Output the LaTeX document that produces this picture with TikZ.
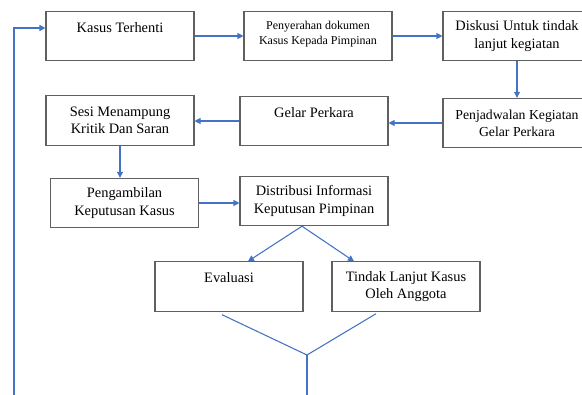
\documentclass[tikz,border=0pt]{standalone}
\usepackage{fontspec}
\setmainfont{Liberation Serif}
\usetikzlibrary{arrows.meta,calc}
\definecolor{boxgray}{RGB}{96,96,96}
\definecolor{flowblue}{RGB}{68,114,196}
\begin{document}
\begin{tikzpicture}[x=0.75pt,y=-0.75pt,
	box/.style={draw=boxgray,line width=0.8pt,minimum width=111pt,minimum height=37pt,align=center,inner sep=2pt,font=\fontsize{10.8}{13}\selectfont},
	smallbox/.style={box,font=\fontsize{9}{11.25}\selectfont},
	flow/.style={draw=flowblue,line width=0.8pt,-{Triangle[length=4.5pt,width=4.5pt]}},
	loopline/.style={draw=flowblue,line width=0.8pt}]
	\useasboundingbox (0,0) rectangle (582,394);
	\clip (0,0) rectangle (582,394);
	%upper row
	\node[box] (kasus) at (120,36) {Kasus Terhenti\\\mbox{}};
	\node[smallbox] (serah) at (318,36) {Penyerahan dokumen\\Kasus Kepada Pimpinan\\[-6pt]\mbox{}};
	\node[box] (diskusi) at (517,36) {Diskusi Untuk tindak\\lanjut kegiatan};
	\node[box,font=\fontsize{10.3}{13}\selectfont] (jadwal) at (517,123) {Penjadwalan Kegiatan\\Gelar Perkara};
	\node[box] (gelar) at (314,121) {Gelar Perkara\\\mbox{}};
	\node[box] (sesi) at (120,120.5) {Sesi Menampung\\Kritik Dan Saran};
	\node[box] (ambil) at (124.5,203) {Pengambilan\\Keputusan Kasus};
	\node[box] (distribusi) at (314,201) {Distribusi Informasi\\Keputusan Pimpinan};
	\node[box] (evaluasi) at (229,286.5) {Evaluasi\\\mbox{}};
	\node[box] (tindak) at (406,286.5) {Tindak Lanjut Kasus\\Oleh Anggota};
	%arrows
	\draw[flow] (kasus.east) -- (serah.west);
	\draw[flow] (serah.east) -- (diskusi.west);
	\draw[flow] (diskusi.south) -- (jadwal.north);
	\draw[flow] (jadwal.west) -- (jadwal.west -| gelar.east);
	\draw[flow] (gelar.west) -- (gelar.west -| sesi.east);
	\draw[flow] (sesi.south) -- (sesi.south |- ambil.north);
	\draw[flow] (ambil.east) -- (ambil.east -| distribusi.west);
	\coordinate (split) at ($(distribusi.south)+(-12,0)$);
	\draw[flow] (split) -- ($(evaluasi.north)+(19,0)$);
	\draw[flow] (split) -- ($(tindak.north)+(-52,0)$);
	%back to the start
	\coordinate (join) at (307,355);
	\coordinate (bottom) at (307,400);
	\coordinate (corner) at (14,400);
	\draw[loopline] ($(evaluasi.south)+(-7,3)$) -- (join) -- ($(tindak.south)+(-30,2)$);
	\draw[loopline] (join) -- (bottom);
	\draw[flow,line width=1.1pt] (corner) |- ($(kasus.west)+(0,-8)$);
\end{tikzpicture}
\end{document}
